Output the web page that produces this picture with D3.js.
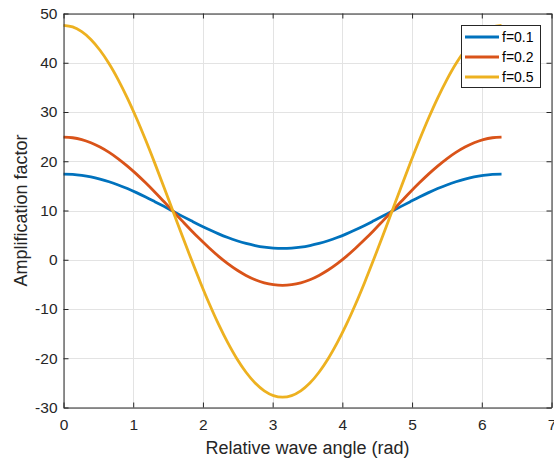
<!DOCTYPE html>
<html><head><meta charset="utf-8">
<script src="https://cdn.jsdelivr.net/npm/d3@7"></script>
<style>body{margin:0;background:#fff}svg{display:block;font-family:"Liberation Sans",Arial,sans-serif}</style>
</head><body>
<svg id="c" width="554" height="462"></svg>
<script>
// x samples: k*pi/24, k=0..48 (relative wave angle, rad)
const xVals = d3.range(49).map(k => k * Math.PI / 24);
const seriesNames = ["f=0.1", "f=0.2", "f=0.5"];
const f01 = [17.40,17.34,17.14,16.83,16.39,15.84,15.19,14.45,13.63,12.74,11.80,10.84,9.85,8.86,7.90,6.96,6.08,5.25,4.51,3.86,3.31,2.88,2.56,2.37,2.30,
             2.37,2.56,2.88,3.31,3.86,4.51,5.25,6.08,6.96,7.90,8.86,9.85,10.84,11.80,12.74,13.63,14.45,15.19,15.84,16.39,16.83,17.14,17.34,17.40];
const f02 = [24.90,24.77,24.39,23.75,22.88,21.79,20.49,19.01,17.38,15.61,13.75,11.81,9.85,7.89,5.95,4.09,2.33,0.69,-0.79,-2.09,-3.18,-4.05,-4.69,-5.07,-5.20,
             -5.07,-4.69,-4.05,-3.18,-2.09,-0.79,0.69,2.33,4.09,5.95,7.89,9.85,11.81,13.75,15.61,17.38,19.01,20.49,21.79,22.88,23.75,24.39,24.77,24.90];
const f05 = [47.60,47.28,46.31,44.73,42.54,39.80,36.54,32.83,28.73,24.30,19.62,14.78,9.85,4.92,0.08,-4.60,-9.03,-13.13,-16.84,-20.10,-22.84,-25.03,-26.61,-27.58,-27.90,
             -27.58,-26.61,-25.03,-22.84,-20.10,-16.84,-13.13,-9.03,-4.60,0.08,4.92,9.85,14.78,19.62,24.30,28.73,32.83,36.54,39.80,42.54,44.73,46.31,47.28,47.60];
const colors = ["#0072BD", "#D95319", "#EDB120"];
const xTicks = [0,1,2,3,4,5,6,7];
const yTicks = [-30,-20,-10,0,10,20,30,40,50];
const xLabel = "Relative wave angle (rad)";
const yLabel = "Amplification factor";

const svg = d3.select("#c");
const L = 63.5, R = 551.5, T = 13.5, B = 407.5;
const x = d3.scaleLinear().domain([0,7]).range([L,R]);
const y = d3.scaleLinear().domain([-30,50]).range([B,T]);
const ax = "#262626";
const FF = '"Liberation Sans",Arial,sans-serif';

// grid
const g = svg.append("g");
g.selectAll(".gx").data(xTicks).join("line")
  .attr("x1", d=>Math.round(x(d))+0.5).attr("x2", d=>Math.round(x(d))+0.5)
  .attr("y1", T).attr("y2", B).attr("stroke", "#e3e3e3").attr("stroke-width",1);
g.selectAll(".gy").data(yTicks).join("line")
  .attr("y1", d=>Math.round(y(d))+0.5).attr("y2", d=>Math.round(y(d))+0.5)
  .attr("x1", L).attr("x2", R).attr("stroke", "#e3e3e3").attr("stroke-width",1);

// lines
const line = d3.line().x((d,i)=>x(xVals[i])).y(d=>y(d)).curve(d3.curveCatmullRom.alpha(0.5));
[f01,f02,f05].forEach((s,i)=>{
  svg.append("path").datum(s).attr("d", line).attr("fill","none")
    .attr("stroke", colors[i]).attr("stroke-width", 2.8).attr("stroke-linejoin","round");
});

// axes (MATLAB style: ticks inside, box)
const tl = 5;
const fmt = d => String(d);
const axB = d3.axisBottom(x).tickValues(xTicks).tickSizeInner(-tl).tickSizeOuter(0).tickPadding(11).tickFormat(fmt);
const axT = d3.axisTop(x).tickValues(xTicks).tickSizeInner(-tl).tickSizeOuter(0).tickFormat("");
const axL = d3.axisLeft(y).tickValues(yTicks).tickSizeInner(-tl).tickSizeOuter(0).tickPadding(6).tickFormat(fmt);
const axR = d3.axisRight(y).tickValues(yTicks).tickSizeInner(-tl).tickSizeOuter(0).tickFormat("");
function style(sel){
  sel.selectAll("path").attr("stroke", ax).attr("stroke-width",1);
  sel.selectAll("line").attr("stroke", ax).attr("stroke-width",1);
  sel.selectAll("text").attr("fill", ax).style("font-size","15.5px").style("font-family",FF);
}
svg.append("g").attr("transform",`translate(0,${B})`).call(axB).call(style);
svg.append("g").attr("transform",`translate(0,${T})`).call(axT).call(style);
svg.append("g").attr("transform",`translate(${L},0)`).call(axL).call(style);
svg.append("g").attr("transform",`translate(${R},0)`).call(axR).call(style);

// labels
svg.append("text").attr("x", (L+R)/2).attr("y", 453.5).attr("text-anchor","middle")
  .attr("fill", ax).style("font-size","18px").style("font-family",FF).text(xLabel);
svg.append("text").attr("transform", `translate(26.5,${(T+B)/2}) rotate(-90)`).attr("text-anchor","middle")
  .attr("fill", ax).style("font-size","18px").style("font-family",FF).text(yLabel);

// legend
const lg = svg.append("g");
lg.append("rect").attr("x",461.5).attr("y",25.5).attr("width",79).attr("height",62)
  .attr("fill","#fff").attr("stroke",ax).attr("stroke-width",1);
seriesNames.forEach((n,i)=>{
  const yy = 37 + i*20;
  lg.append("line").attr("x1",465).attr("x2",499).attr("y1",yy).attr("y2",yy)
    .attr("stroke",colors[i]).attr("stroke-width",2.8);
  lg.append("text").attr("x",502).attr("y",yy+5).attr("fill","#000").style("font-size","14px").style("font-family",FF).text(n);
});
</script>
</body></html>
